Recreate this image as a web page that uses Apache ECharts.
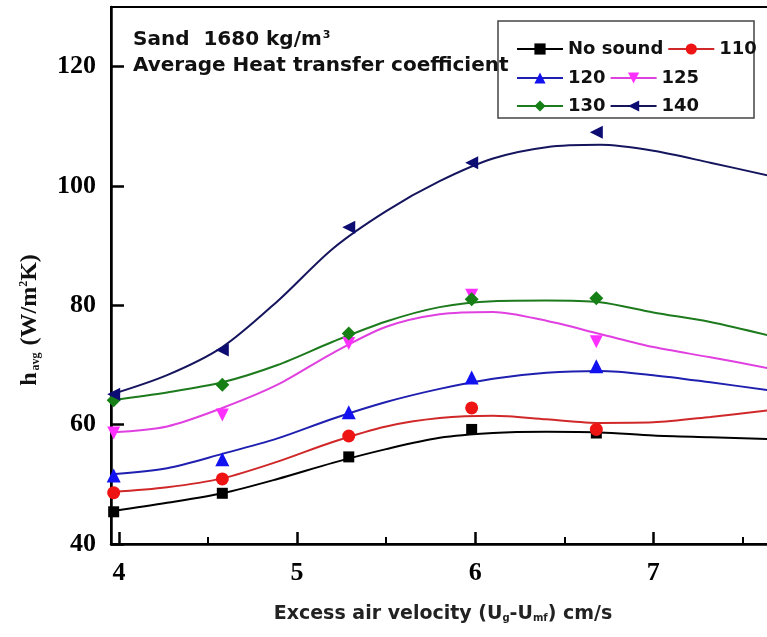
<!DOCTYPE html>
<html><head><meta charset="utf-8">
<script src="https://cdn.jsdelivr.net/npm/echarts@6/dist/echarts.min.js"></script>
<style>html,body{margin:0;padding:0;background:#fff}#c{width:767px;height:637px}</style>
</head><body><div id="c"></div>
<script>
// ---- data ----
const seriesNames = ['No sound', '110', '120', '125', '130', '140'];
const markerX = [3.97, 4.58, 5.29, 5.98, 6.68];
const markerNoSound = [45.4, 48.5, 54.6, 59.2, 58.6];
const marker110 = [48.6, 50.9, 58.1, 62.8, 59.2];
const marker120 = [51.5, 54.2, 62.1, 67.9, 69.8];
const marker125 = [58.6, 61.6, 73.6, 81.7, 73.9];
const marker130 = [64.1, 66.7, 75.3, 81.0, 81.2];
const marker140 = [65.1, 72.5, 93.1, 103.9, 109.0];
const curveX = [3.96, 4.27, 4.58, 4.89, 5.2, 5.5, 5.8, 6.1, 6.4, 6.7, 7.0, 7.32, 7.64];
const curveNoSound = [45.5, 46.9, 48.5, 50.9, 53.6, 55.9, 57.8, 58.6, 58.8, 58.7, 58.2, 57.9, 57.6];
const curve110 = [48.7, 49.5, 51.0, 53.8, 57.1, 59.7, 61.1, 61.5, 60.9, 60.3, 60.4, 61.3, 62.4];
const curve120 = [51.7, 52.7, 55.1, 57.7, 61.0, 63.8, 66.0, 67.7, 68.7, 69.0, 68.3, 67.1, 65.8];
const curve125 = [58.7, 59.7, 62.8, 66.7, 72.0, 76.4, 78.5, 78.9, 77.4, 75.2, 73.0, 71.3, 69.5];
const curve130 = [64.1, 65.4, 67.1, 70.0, 73.9, 77.3, 79.7, 80.7, 80.8, 80.5, 78.8, 77.2, 75.0];
const curve140 = [65.1, 68.3, 73.0, 80.7, 89.5, 95.8, 100.8, 104.6, 106.5, 106.9, 105.9, 103.9, 101.8];
const xTicks = [4, 5, 6, 7];
const xMinorTicks = [4.5, 5.5, 6.5, 7.5];
const yTicks = [40, 60, 80, 100, 120];

// ---- styles ----
const styles = [
  {line: '#000000', mark: '#000000', symbol: 'rect', size: 11},
  {line: '#d02828', mark: '#ee1414', symbol: 'circle', size: 13},
  {line: '#1f1fb0', mark: '#1212f0', symbol: 'triangle', size: 14},
  {line: '#e040e0', mark: '#ff30ff', symbol: 'path://M0,0L10,0L5,9Z', size: 13},
  {line: '#1d7a1d', mark: '#168016', symbol: 'diamond', size: 14},
  {line: '#15155e', mark: '#0c0c72', symbol: 'path://M0,5L10,0L10,10Z', size: 13}
];
const curves = [curveNoSound, curve110, curve120, curve125, curve130, curve140];
const markers = [markerNoSound, marker110, marker120, marker125, marker130, marker140];

const zip = (xs, ys) => xs.map((x, i) => [x, ys[i]]);
const series = [];
seriesNames.forEach((name, i) => {
  const s = styles[i];
  series.push({
    name: name, type: 'line', smooth: 0.3, showSymbol: false,
    symbol: s.symbol, symbolSize: s.size,
    lineStyle: {color: s.line, width: 2},
    itemStyle: {color: s.mark},
    data: zip(curveX, curves[i]), z: 2, silent: true
  });
});
seriesNames.forEach((name, i) => {
  const s = styles[i];
  series.push({
    name: name + ' pts', type: 'scatter',
    symbol: s.symbol, symbolSize: s.size,
    itemStyle: {color: s.mark, opacity: 1},
    data: zip(markerX, markers[i]), z: 3, silent: true
  });
});

const serif = '"Liberation Serif", "Times New Roman", serif';
const sans = '"DejaVu Sans", Verdana, sans-serif';
const legendBase = {
  left: 511, itemWidth: 46, itemHeight: 14, itemGap: 4, selectedMode: false,
  textStyle: {fontFamily: sans, fontWeight: 'bold', fontSize: 18, color: '#111'}
};

const chart = echarts.init(document.getElementById('c'), null, {renderer: 'canvas'});
chart.setOption({
  animation: false,
  backgroundColor: '#fff',
  grid: {left: 111, width: 667, top: 7, height: 537, containLabel: false, outerBoundsMode: 'none',
         show: true, borderColor: '#000', borderWidth: 2},
  xAxis: [{
    type: 'value', min: 3.955, max: 7.7, position: 'bottom',
    axisLine: {show: true, lineStyle: {color: '#000', width: 2.5}},
    axisTick: {show: true, inside: true, length: 12, lineStyle: {color: '#000', width: 2.5}, customValues: xTicks},
    axisLabel: {customValues: xTicks, margin: 16, color: '#000', fontFamily: serif, fontWeight: 'bold', fontSize: 26},
    splitLine: {show: false}
  }, {
    type: 'value', min: 3.955, max: 7.7, position: 'bottom',
    axisLine: {show: false},
    axisTick: {show: true, inside: true, length: 7, lineStyle: {color: '#000', width: 2}, customValues: xMinorTicks},
    axisLabel: {show: false}, splitLine: {show: false}
  }],
  yAxis: {
    type: 'value', min: 40, max: 130,
    axisLine: {show: true, lineStyle: {color: '#000', width: 2.5}},
    axisTick: {show: true, inside: true, length: 13, lineStyle: {color: '#000', width: 2.5}, customValues: yTicks},
    axisLabel: {customValues: yTicks, margin: 15, color: '#000', fontFamily: serif, fontWeight: 'bold', fontSize: 26},
    splitLine: {show: false}
  },
  legend: [
    Object.assign({}, legendBase, {top: 35, data: ['No sound', '110']}),
    Object.assign({}, legendBase, {top: 64, data: ['120', '125']}),
    Object.assign({}, legendBase, {top: 92, data: ['130', '140']})
  ],
  graphic: [
    {type: 'rect', z: 1, shape: {x: 498, y: 21, width: 256, height: 97},
     style: {fill: '#fff', stroke: '#444', lineWidth: 1.5}},
    {type: 'text', z: 50, x: 133, y: 40,
     style: {text: 'Sand  1680 kg/m{sup|3}', font: 'bold 20px ' + sans, fill: '#111',
             textVerticalAlign: 'middle',
             rich: {sup: {font: 'bold 11px ' + sans, fill: '#111', verticalAlign: 'top', padding: [0, 0, 8, 1]}}}},
    {type: 'text', z: 50, x: 133, y: 66,
     style: {text: 'Average Heat transfer coefficient', font: 'bold 20px ' + sans, fill: '#111', textVerticalAlign: 'middle'}},
    {type: 'text', z: 50, x: 30, y: 320, rotation: Math.PI / 2,
     style: {text: 'h{sub|avg} (W/m{sup|2}K)', font: 'bold 24px ' + serif, fill: '#111',
             textAlign: 'center', textVerticalAlign: 'middle',
             rich: {sub: {font: 'bold 12px ' + serif, fill: '#111', verticalAlign: 'bottom', padding: [6, 1, 0, 2]},
                    sup: {font: 'bold 12px ' + serif, fill: '#111', verticalAlign: 'top', padding: [0, 0, 8, 0]}}}},
    {type: 'text', z: 50, x: 443, y: 614,
     style: {text: 'Excess air velocity (U{sub|g}-U{sub|mf}) cm/s', font: 'bold 19px ' + sans, fill: '#222',
             textAlign: 'center', textVerticalAlign: 'middle',
             rich: {sub: {font: 'bold 10px ' + sans, fill: '#222', verticalAlign: 'bottom', padding: [6, 0, 0, 0]}}}}
  ],
  series: series
});
</script>
</body></html>
